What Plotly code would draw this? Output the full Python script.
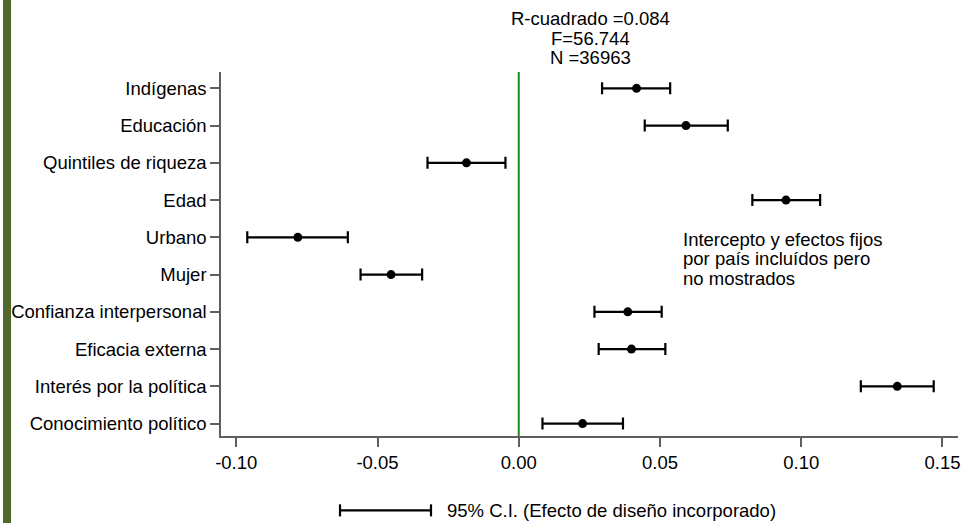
import plotly.graph_objects as go

# ---------------- data ----------------
labels = ["Conocimiento político", "Interés por la política", "Eficacia externa",
          "Confianza interpersonal", "Mujer", "Urbano", "Edad",
          "Quintiles de riqueza", "Educación", "Indígenas"]
estimates = [0.0226, 0.1340, 0.0399, 0.0386, -0.0452, -0.0782, 0.0946, -0.0185, 0.0592, 0.0417]
lower = [0.0084, 0.1211, 0.0283, 0.0268, -0.0560, -0.0961, 0.0827, -0.0323, 0.0446, 0.0295]
upper = [0.0369, 0.1469, 0.0519, 0.0506, -0.0342, -0.0605, 0.1067, -0.0047, 0.0740, 0.0536]
x_tickvals = [-0.10, -0.05, 0.00, 0.05, 0.10, 0.15]
x_ticktext = ["-0.10", "-0.05", "0.00", "0.05", "0.10", "0.15"]
stats_lines = ["R-cuadrado =0.084", "F=56.744", "N =36963"]
note_lines = ["Intercepto y efectos fijos", "por país incluídos pero", "no mostrados"]
legend_text = "95% C.I. (Efecto de diseño incorporado)"

FONT = "Liberation Sans, Arial, sans-serif"
FS = 18.5
AXIS_COL = "#5f5f5f"

ypos = list(range(len(labels)))
err_plus = [u - e for u, e in zip(upper, estimates)]
err_minus = [e - l for e, l in zip(estimates, lower)]

fig = go.Figure()
fig.add_trace(go.Scatter(
    x=estimates, y=ypos, mode="markers",
    marker=dict(color="black", size=9),
    error_x=dict(type="data", symmetric=False, array=err_plus, arrayminus=err_minus,
                 color="black", thickness=2.2, width=6),
    showlegend=False, hoverinfo="skip"))

# zero reference line
fig.add_shape(type="line", xref="x", yref="paper", x0=0, x1=0, y0=0, y1=1,
              line=dict(color="#1a8a1a", width=2))

# left decorative bar
fig.add_shape(type="rect", xref="paper", yref="paper", x0=-0.2958, x1=-0.2849, y0=-0.24, y1=1.2,
              fillcolor="#50682c", line=dict(width=0), layer="below")

# stats annotation (above plot)
for i, t in enumerate(stats_lines):
    fig.add_annotation(text=t, xref="paper", yref="paper",
                       x=(590 - 221) / 737, y=(435.7 - (19 + 19.2 * i)) / 363.7,
                       xanchor="center", yanchor="middle", showarrow=False,
                       font=dict(family=FONT, size=FS, color="black"))

# note annotation
for i, t in enumerate(note_lines):
    fig.add_annotation(text=t, xref="paper", yref="paper",
                       x=(681 - 221) / 737, y=(435.7 - (239 + 19.5 * i)) / 363.7,
                       xanchor="left", yanchor="middle", showarrow=False,
                       font=dict(family=FONT, size=FS, color="black"))

# legend (custom)
ly = (435.7 - 510) / 363.7
lx0 = (340 - 221) / 737
lx1 = (431 - 221) / 737
cap = 6 / 363.7
fig.add_shape(type="line", xref="paper", yref="paper", x0=lx0, x1=lx1, y0=ly, y1=ly,
              line=dict(color="black", width=2.2))
for lx in (lx0, lx1):
    fig.add_shape(type="line", xref="paper", yref="paper", x0=lx, x1=lx, y0=ly - cap, y1=ly + cap,
                  line=dict(color="black", width=2.2))
fig.add_annotation(text=legend_text, xref="paper", yref="paper",
                   x=(445 - 221) / 737, y=ly, xanchor="left", yanchor="middle",
                   showarrow=False, font=dict(family=FONT, size=FS, color="black"))

fig.update_xaxes(range=[-0.1054, 0.1555], tickvals=x_tickvals, ticktext=x_ticktext,
                 showgrid=False, zeroline=False, showline=True, linecolor=AXIS_COL, linewidth=1.5,
                 ticks="outside", ticklen=9, tickwidth=1.5, tickcolor=AXIS_COL,
                 tickfont=dict(family=FONT, size=FS, color="black"))
fig.update_yaxes(range=[-0.333, 9.438], tickvals=ypos, ticktext=labels,
                 showgrid=False, zeroline=False, showline=True, linecolor=AXIS_COL, linewidth=1.5,
                 ticks="outside", ticklen=9, tickwidth=1.5, tickcolor=AXIS_COL,
                 tickfont=dict(family=FONT, size=FS, color="black"))

fig.update_layout(width=972, height=523, plot_bgcolor="white", paper_bgcolor="white",
                  margin=dict(l=221, r=14, t=72, b=87), showlegend=False,
                  font=dict(family=FONT, size=FS, color="black"))

fig.write_html("out.html", config={"displayModeBar": False},
               post_script="document.body.style.margin='0px';document.body.style.overflow='hidden';")
